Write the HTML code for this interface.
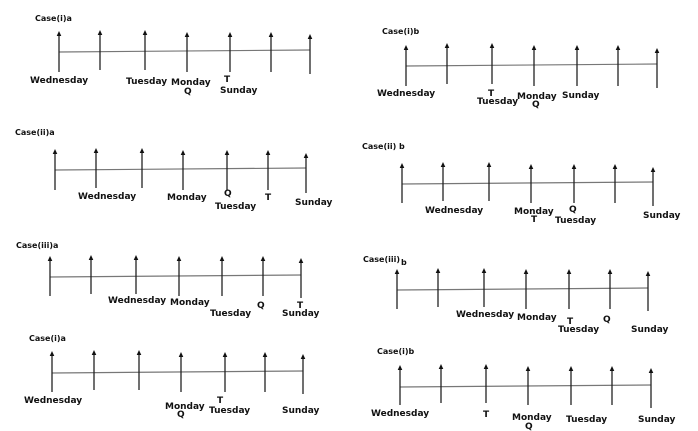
<!DOCTYPE html>
<html><head><meta charset="utf-8"><style>
html,body{margin:0;padding:0;background:#fff;}
svg{display:block;}
text{font-family:"DejaVu Sans","Liberation Sans",sans-serif;font-weight:bold;font-size:9px;fill:#111;}
text.t{font-size:8px;}
.v{stroke:#222;stroke-width:1.3;}
.h{stroke:#777;stroke-width:1.2;}
</style></head><body>
<svg width="698" height="431" viewBox="0 0 698 431" xmlns="http://www.w3.org/2000/svg">
<defs>
<g id="a"><polygon points="0,-1 -2.3,4 2.3,4" fill="#111"/></g>
</defs>

<!-- Panel 1 Case(i)a -->
<text class="t" x="35" y="21">Case(i)a</text>
<line class="h" x1="59" y1="52" x2="310" y2="50"/>
<g class="v">
<line x1="59" y1="34" x2="59" y2="72"/><line x1="100" y1="33" x2="100" y2="70"/><line x1="145" y1="33" x2="145" y2="70"/><line x1="187" y1="35" x2="187" y2="72"/><line x1="230" y1="35" x2="230" y2="72"/><line x1="271" y1="35" x2="271" y2="72"/><line x1="310" y1="37" x2="310" y2="74"/>
</g>
<use href="#a" x="59" y="32"/><use href="#a" x="100" y="31"/><use href="#a" x="145" y="31"/><use href="#a" x="187" y="33"/><use href="#a" x="230" y="33"/><use href="#a" x="271" y="33"/><use href="#a" x="310" y="35"/>
<text x="30" y="83">Wednesday</text>
<text x="126" y="84">Tuesday</text>
<text x="171" y="85">Monday</text>
<text x="184" y="94">Q</text>
<text x="224" y="82">T</text>
<text x="220" y="93">Sunday</text>

<!-- Panel 2 Case(i)b -->
<text class="t" x="382" y="34">Case(i)b</text>
<line class="h" x1="406" y1="66" x2="657" y2="64"/>
<g class="v">
<line x1="406" y1="48" x2="406" y2="86"/><line x1="447" y1="46" x2="447" y2="84"/><line x1="492" y1="46" x2="492" y2="84"/><line x1="534" y1="48" x2="534" y2="86"/><line x1="577" y1="48" x2="577" y2="86"/><line x1="618" y1="48" x2="618" y2="86"/><line x1="657" y1="51" x2="657" y2="88"/>
</g>
<use href="#a" x="406" y="46"/><use href="#a" x="447" y="44"/><use href="#a" x="492" y="44"/><use href="#a" x="534" y="46"/><use href="#a" x="577" y="46"/><use href="#a" x="618" y="46"/><use href="#a" x="657" y="49"/>
<text x="377" y="96">Wednesday</text>
<text x="488" y="96">T</text>
<text x="477" y="104">Tuesday</text>
<text x="517" y="99">Monday</text>
<text x="532" y="107">Q</text>
<text x="562" y="98">Sunday</text>

<!-- Panel 3 Case(ii)a -->
<text class="t" x="15" y="135">Case(ii)a</text>
<line class="h" x1="55" y1="170" x2="306" y2="168"/>
<g class="v">
<line x1="55" y1="152" x2="55" y2="190"/><line x1="96" y1="151" x2="96" y2="188"/><line x1="142" y1="151" x2="142" y2="188"/><line x1="183" y1="153" x2="183" y2="190"/><line x1="227" y1="153" x2="227" y2="190"/><line x1="268" y1="153" x2="268" y2="190"/><line x1="306" y1="156" x2="306" y2="193"/>
</g>
<use href="#a" x="55" y="150"/><use href="#a" x="96" y="149"/><use href="#a" x="142" y="149"/><use href="#a" x="183" y="151"/><use href="#a" x="227" y="151"/><use href="#a" x="268" y="151"/><use href="#a" x="306" y="154"/>
<text x="78" y="199">Wednesday</text>
<text x="167" y="200">Monday</text>
<text x="224" y="196">Q</text>
<text x="215" y="209">Tuesday</text>
<text x="265" y="200">T</text>
<text x="295" y="205">Sunday</text>

<!-- Panel 4 Case(ii) b -->
<text class="t" x="362" y="149">Case(ii) b</text>
<line class="h" x1="402" y1="184" x2="653" y2="182"/>
<g class="v">
<line x1="402" y1="166" x2="402" y2="203"/><line x1="443" y1="165" x2="443" y2="201"/><line x1="489" y1="165" x2="489" y2="201"/><line x1="531" y1="167" x2="531" y2="203"/><line x1="574" y1="167" x2="574" y2="203"/><line x1="615" y1="167" x2="615" y2="203"/><line x1="653" y1="170" x2="653" y2="206"/>
</g>
<use href="#a" x="402" y="164"/><use href="#a" x="443" y="163"/><use href="#a" x="489" y="163"/><use href="#a" x="531" y="165"/><use href="#a" x="574" y="165"/><use href="#a" x="615" y="165"/><use href="#a" x="653" y="168"/>
<text x="425" y="213">Wednesday</text>
<text x="514" y="214">Monday</text>
<text x="531" y="222">T</text>
<text x="569" y="212">Q</text>
<text x="555" y="223">Tuesday</text>
<text x="643" y="218">Sunday</text>

<!-- Panel 5 Case(iii)a -->
<text class="t" x="16" y="248">Case(iii)a</text>
<line class="h" x1="50" y1="277" x2="301" y2="275"/>
<g class="v">
<line x1="50" y1="259" x2="50" y2="296"/><line x1="91" y1="258" x2="91" y2="294"/><line x1="136" y1="258" x2="136" y2="294"/><line x1="179" y1="259" x2="179" y2="296"/><line x1="222" y1="259" x2="222" y2="296"/><line x1="263" y1="259" x2="263" y2="296"/><line x1="301" y1="261" x2="301" y2="298"/>
</g>
<use href="#a" x="50" y="257"/><use href="#a" x="91" y="256"/><use href="#a" x="136" y="256"/><use href="#a" x="179" y="257"/><use href="#a" x="222" y="257"/><use href="#a" x="263" y="257"/><use href="#a" x="301" y="259"/>
<text x="108" y="303">Wednesday</text>
<text x="170" y="305">Monday</text>
<text x="210" y="316">Tuesday</text>
<text x="257" y="308">Q</text>
<text x="297" y="308">T</text>
<text x="282" y="316">Sunday</text>

<!-- Panel 6 Case(i)a -->
<text class="t" x="29" y="341">Case(i)a</text>
<line class="h" x1="52" y1="373" x2="303" y2="371"/>
<g class="v">
<line x1="52" y1="354" x2="52" y2="392"/><line x1="94" y1="353" x2="94" y2="390"/><line x1="139" y1="353" x2="139" y2="390"/><line x1="181" y1="355" x2="181" y2="392"/><line x1="225" y1="355" x2="225" y2="392"/><line x1="265" y1="355" x2="265" y2="392"/><line x1="303" y1="357" x2="303" y2="394"/>
</g>
<use href="#a" x="52" y="352"/><use href="#a" x="94" y="351"/><use href="#a" x="139" y="351"/><use href="#a" x="181" y="353"/><use href="#a" x="225" y="353"/><use href="#a" x="265" y="353"/><use href="#a" x="303" y="355"/>
<text x="24" y="403">Wednesday</text>
<text x="165" y="409">Monday</text>
<text x="177" y="417">Q</text>
<text x="217" y="403">T</text>
<text x="209" y="413">Tuesday</text>
<text x="282" y="413">Sunday</text>

<!-- Panel 7 Case(iii)b -->
<text class="t" x="363" y="262">Case(iii)</text>
<text class="t" x="401" y="265">b</text>
<line class="h" x1="397" y1="290" x2="648" y2="288"/>
<g class="v">
<line x1="397" y1="272" x2="397" y2="309"/><line x1="438" y1="271" x2="438" y2="307"/><line x1="484" y1="271" x2="484" y2="307"/><line x1="526" y1="272" x2="526" y2="309"/><line x1="569" y1="272" x2="569" y2="309"/><line x1="610" y1="272" x2="610" y2="309"/><line x1="648" y1="274" x2="648" y2="311"/>
</g>
<use href="#a" x="397" y="270"/><use href="#a" x="438" y="269"/><use href="#a" x="484" y="269"/><use href="#a" x="526" y="270"/><use href="#a" x="569" y="270"/><use href="#a" x="610" y="270"/><use href="#a" x="648" y="272"/>
<text x="456" y="317">Wednesday</text>
<text x="517" y="320">Monday</text>
<text x="567" y="324">T</text>
<text x="558" y="332">Tuesday</text>
<text x="603" y="322">Q</text>
<text x="631" y="332">Sunday</text>

<!-- Panel 8 Case(i)b -->
<text class="t" x="377" y="354">Case(i)b</text>
<line class="h" x1="400" y1="387" x2="651" y2="385"/>
<g class="v">
<line x1="400" y1="368" x2="400" y2="405"/><line x1="441" y1="367" x2="441" y2="403"/><line x1="486" y1="367" x2="486" y2="403"/><line x1="528" y1="369" x2="528" y2="405"/><line x1="571" y1="369" x2="571" y2="405"/><line x1="612" y1="369" x2="612" y2="405"/><line x1="651" y1="371" x2="651" y2="408"/>
</g>
<use href="#a" x="400" y="366"/><use href="#a" x="441" y="365"/><use href="#a" x="486" y="365"/><use href="#a" x="528" y="367"/><use href="#a" x="571" y="367"/><use href="#a" x="612" y="367"/><use href="#a" x="651" y="369"/>
<text x="371" y="416">Wednesday</text>
<text x="483" y="417">T</text>
<text x="512" y="420">Monday</text>
<text x="525" y="429">Q</text>
<text x="566" y="422">Tuesday</text>
<text x="638" y="422">Sunday</text>
</svg>
</body></html>
